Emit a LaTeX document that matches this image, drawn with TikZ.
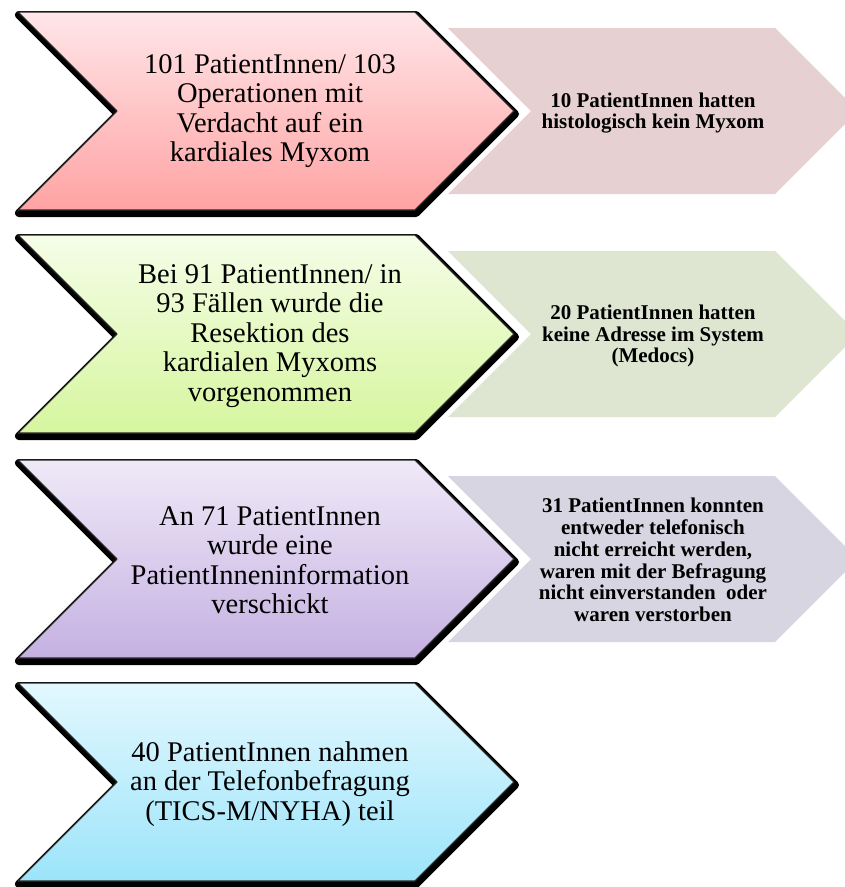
\documentclass[tikz,border=0pt]{standalone}
\usepackage{fontspec}
\setmainfont{Liberation Serif}
\definecolor{redT}{HTML}{FFE6E9}
\definecolor{redB}{HTML}{FFA3A3}
\definecolor{grnT}{HTML}{F5FDE8}
\definecolor{grnB}{HTML}{D6F69E}
\definecolor{purT}{HTML}{EFE9F7}
\definecolor{purB}{HTML}{C5B1E2}
\definecolor{bluT}{HTML}{E3F8FE}
\definecolor{bluB}{HTML}{9CE4FA}
\definecolor{gryA}{HTML}{E6D0D1}
\definecolor{gryB}{HTML}{DEE6D2}
\definecolor{gryC}{HTML}{D8D5E2}
\newcommand\mainchev[3]{%
  \filldraw[black, line width=8pt, line join=round, shift={(1,3)}]
    (18,#1-99) -- (415,#1-99) -- (514,#1) -- (415,#1+99) -- (18,#1+99) -- (117,#1) -- cycle;
  \path[top color=#2, bottom color=#3, draw=black!85, line width=1.2pt, line join=round]
    (18,#1-99) -- (415,#1-99) -- (514,#1) -- (415,#1+99) -- (18,#1+99) -- (117,#1) -- cycle;}
\newcommand\sidechev[2]{%
  \fill[#2] (448,#1-83) -- (775,#1-83) -- (858,#1) -- (775,#1+83) -- (448,#1+83) -- (531,#1) -- cycle;}
\tikzset{
  maintext/.style={align=center, inner sep=0pt, font=\fontsize{28.5}{29.5}\selectfont},
  sidetext/.style={align=center, inner sep=0pt, font=\bfseries\fontsize{21}{21.8}\selectfont}
}
\begin{document}
\begin{tikzpicture}[x=1pt, y=-1pt]
\fill[white] (0,0) rectangle (845,887);
\useasboundingbox (0,0) rectangle (845,887);
\sidechev{111}{gryA}
\sidechev{334}{gryB}
\sidechev{559}{gryC}
\mainchev{111}{redT}{redB}
\mainchev{334}{grnT}{grnB}
\mainchev{559}{purT}{purB}
\mainchev{782}{bluT}{bluB}
\node[maintext] (t1) at (270,111) {101 PatientInnen/ 103\\Operationen mit\\Verdacht auf ein\\kardiales Myxom};
\node[maintext] (t2) at (270,336) {Bei 91 PatientInnen/ in\\93 Fällen wurde die\\Resektion des\\kardialen Myxoms\\vorgenommen};
\node[maintext] (t3) at (270,560) {An 71 PatientInnen\\wurde eine\\PatientInneninformation\\verschickt};
\node[maintext] (t4) at (270,784) {40 PatientInnen nahmen\\an der Telefonbefragung\\(TICS-M/NYHA) teil};
\node[sidetext] (s1) at (653,113) {10 PatientInnen hatten\\histologisch kein Myxom};
\node[sidetext] (s2) at (653,336) {20 PatientInnen hatten\\keine Adresse im System\\(Medocs)};
\node[sidetext] (s3) at (653,560) {31 PatientInnen konnten\\entweder telefonisch\\nicht erreicht werden,\\waren mit der Befragung\\nicht einverstanden~ oder\\waren verstorben};
\end{tikzpicture}
\end{document}
